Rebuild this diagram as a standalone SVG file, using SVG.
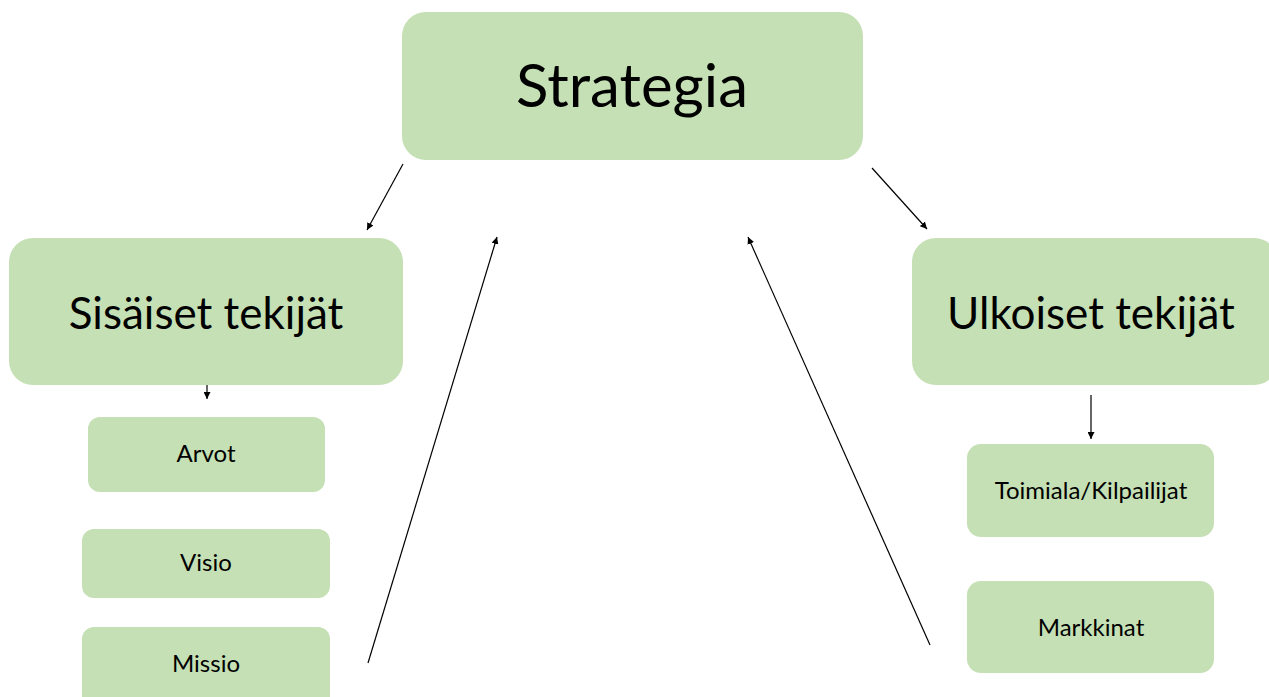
<svg xmlns="http://www.w3.org/2000/svg" width="1269" height="697" viewBox="0 0 1269 697">
<defs>
<style>
.box{fill:#C5E0B4;}
.t{font-family:Lato,"Liberation Sans",sans-serif;fill:#000;text-anchor:middle;}
.big{font-size:60px;}
.mid{font-size:44px;}
.sm{font-size:24px;}
.c{stroke:#000;stroke-width:1.2;fill:none;marker-end:url(#ah);}
</style>
<marker id="ah" viewBox="0 0 10 10" refX="10" refY="5" markerWidth="7" markerHeight="7" markerUnits="userSpaceOnUse" orient="auto">
<path d="M0,0 L10,5 L0,10 z" fill="#000"/>
</marker>
</defs>
<rect width="1269" height="697" fill="#fff"/>
<g id="strategia"><rect class="box" x="402" y="12" width="461" height="148" rx="24"/><text class="t big" x="632" y="107">Strategia</text></g>
<g id="sisaiset"><rect class="box" x="9" y="238" width="394" height="147" rx="24"/><text class="t mid" x="206" y="329">Sisäiset tekijät</text></g>
<g id="ulkoiset"><rect class="box" x="912" y="238" width="366" height="147" rx="24"/><text class="t mid" x="1091" y="329">Ulkoiset tekijät</text></g>
<g id="arvot"><rect class="box" x="88" y="417" width="237" height="75" rx="12"/><text class="t sm" x="206" y="462">Arvot</text></g>
<g id="visio"><rect class="box" x="82" y="529" width="248" height="69" rx="12"/><text class="t sm" x="206" y="571">Visio</text></g>
<g id="missio"><rect class="box" x="82" y="627" width="248" height="82" rx="12"/><text class="t sm" x="206" y="672">Missio</text></g>
<g id="toimiala"><rect class="box" x="967" y="444" width="247" height="93" rx="14"/><text class="t sm" x="1091" y="499">Toimiala/Kilpailijat</text></g>
<g id="markkinat"><rect class="box" x="967" y="581" width="247" height="92" rx="14"/><text class="t sm" x="1091" y="636">Markkinat</text></g>
<g id="connectors">
<line class="c" x1="403" y1="164" x2="367" y2="230"/>
<line class="c" x1="872" y1="168" x2="927" y2="229"/>
<line class="c" x1="207" y1="385" x2="207" y2="399"/>
<line class="c" x1="1091" y1="395" x2="1091" y2="439"/>
<line class="c" x1="368" y1="663" x2="497" y2="237"/>
<line class="c" x1="930" y1="645" x2="748" y2="237"/>
</g>
</svg>
